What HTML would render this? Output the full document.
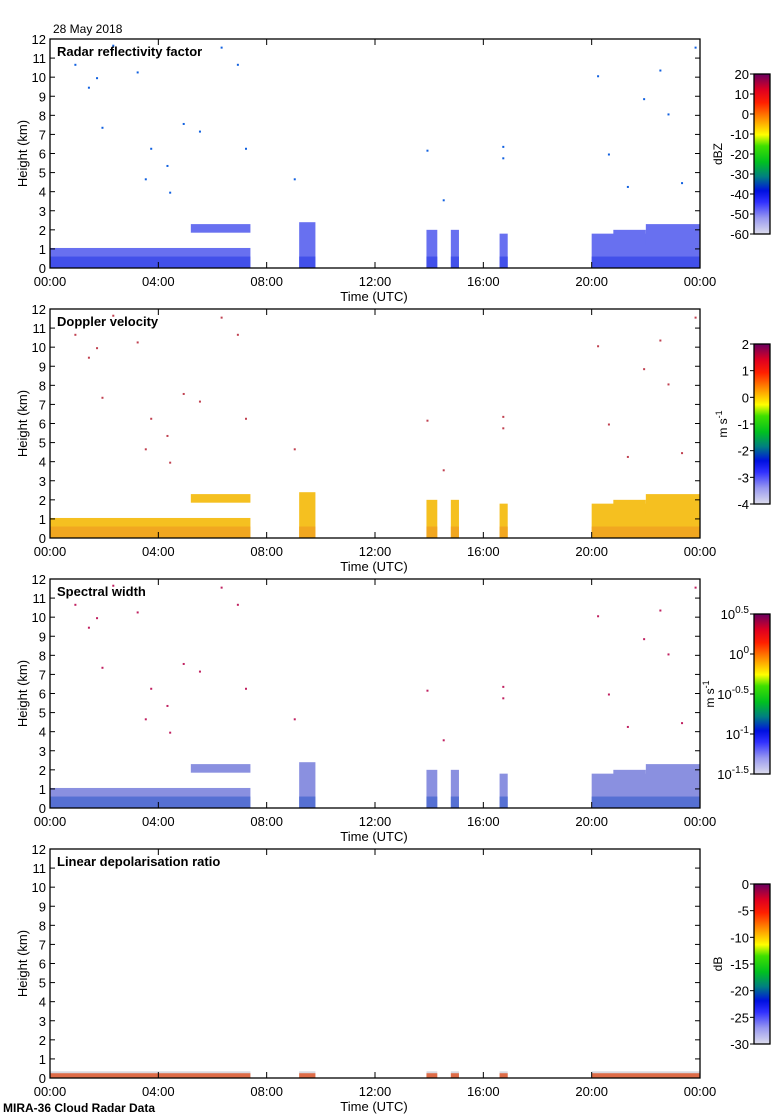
<!DOCTYPE html>
<html><head><meta charset="utf-8"><style>
body{margin:0;background:#fff;}
svg{display:block;font-family:"Liberation Sans",sans-serif;}
</style></head><body>
<svg id="chart" width="780" height="1120" viewBox="0 0 780 1120">
<defs>
<linearGradient id="cmap" x1="0" y1="1" x2="0" y2="0">
<stop offset="0" stop-color="#dcdcec"/>
<stop offset="0.1" stop-color="#9898f0"/>
<stop offset="0.2" stop-color="#3030ff"/>
<stop offset="0.27" stop-color="#0010e0"/>
<stop offset="0.36" stop-color="#008080"/>
<stop offset="0.45" stop-color="#00c020"/>
<stop offset="0.55" stop-color="#40e000"/>
<stop offset="0.62" stop-color="#ffff00"/>
<stop offset="0.72" stop-color="#ff9000"/>
<stop offset="0.82" stop-color="#ff2000"/>
<stop offset="0.9" stop-color="#e00020"/>
<stop offset="1" stop-color="#6a0060"/>
</linearGradient>
</defs>
</svg>
<script>
// ---- data ----
const panelTitles = ["Radar reflectivity factor","Doppler velocity","Spectral width","Linear depolarisation ratio"];
const xTickLabels = ["00:00","04:00","08:00","12:00","16:00","20:00","00:00"];
const xTickHours = [0,4,8,12,16,20,24];
const yTicks = [0,1,2,3,4,5,6,7,8,9,10,11,12];
// echo segments: start hour, end hour, cloud top (km), base (km)
const segStart = [0.0, 5.2, 9.2, 13.9, 14.8, 16.6, 20.0, 20.8, 22.0];
const segEnd   = [7.4, 7.4, 9.8, 14.3, 15.1, 16.9, 24.0, 22.0, 24.0];
const segTop   = [1.05, 2.3, 2.4, 2.0, 2.0, 1.8, 1.8, 2.0, 2.3];
const segBase  = [0.0, 1.85, 0.0, 0.0, 0.0, 0.0, 0.0, 1.2, 1.2];
// sparse insect/noise points (hour, km)
const dotHours = [0.9,1.4,1.7,1.9,2.3,3.2,3.5,3.7,4.3,4.4,4.9,5.5,6.3,6.9,7.2,9.0,13.9,14.5,16.7,16.7,20.2,20.6,21.3,21.9,22.5,22.8,23.3,23.8];
const dotKm    = [10.7,9.5,10.0,7.4,11.7,10.3,4.7,6.3,5.4,4.0,7.6,7.2,11.6,10.7,6.3,4.7,6.2,3.6,6.4,5.8,10.1,6.0,4.3,8.9,10.4,8.1,4.5,11.6];
const cbLabels = [
 ["20","10","0","-10","-20","-30","-40","-50","-60"],
 ["2","1","0","-1","-2","-3","-4"],
 ["0.5","0","-0.5","-1","-1.5"],
 ["0","-5","-10","-15","-20","-25","-30"]];
const cbUnits = ["dBZ","m s-1","m s-1","dB"];
const fillMain = ["#6870f0","#f5c020","#8a90e0","#d8d8e0"];
const fillLow  = ["#3848e8","#f0a020","#4868d0","#e05020"];
const dotCol   = ["#1060e0","#c04050","#c02060","#ffffff"];
const unitX = [722,727,714,722];

const NS="http://www.w3.org/2000/svg";
const svg=document.getElementById('chart');
function mk(tag,attrs,parent){const e=document.createElementNS(NS,tag);for(const k in attrs)e.setAttribute(k,attrs[k]);(parent||svg).appendChild(e);return e;}
const X0=50,X1=700;
function xs(h){return X0+(X1-X0)*h/24;}

mk('text',{x:53,y:33,'font-size':12}).textContent="28 May 2018";

for(let p=0;p<4;p++){
 const top=39+270*p, bot=268+270*p;
 const ys=k=>bot-(bot-top)*k/12;
 const g=mk('g',{});
 
 
 for(let i=0;i<segStart.length;i++){
   let t=segTop[i], b=segBase[i];
   if(p===3){t=Math.min(t,0.35); if(b>0) continue;}
   const r=mk('rect',{x:xs(segStart[i]),y:ys(t),width:xs(segEnd[i])-xs(segStart[i]),height:ys(b)-ys(t),fill:fillMain[p]},g);
   
   
   if(b===0){
     const lt=p===3?0.25:Math.min(t,0.6);
     const r2=mk('rect',{x:xs(segStart[i]),y:ys(lt),width:xs(segEnd[i])-xs(segStart[i]),height:ys(0)-ys(lt),fill:fillLow[p],opacity:0.8},g);
     
     
   }
 }
 if(p<3){
  for(let i=0;i<dotHours.length;i++){
   const d=mk('rect',{x:xs(dotHours[i]),y:ys(dotKm[i]),width:2,height:2,fill:dotCol[p]},g);
   
   
  }
 }
 const fr=mk('rect',{x:X0,y:top,width:X1-X0,height:bot-top,fill:'none',stroke:'#000','stroke-width':1.3},g);
 
 
 yTicks.forEach(v=>{
   const y=ys(v);
   mk('line',{x1:X0,x2:X0+5,y1:y,y2:y,stroke:'#000'},g);
   mk('line',{x1:X1-5,x2:X1,y1:y,y2:y,stroke:'#000'},g);
   const t=mk('text',{x:46,y:y+5,'font-size':13,'text-anchor':'end'},g);t.textContent=v;
   
   
 });
 xTickHours.forEach((h,i)=>{
   const x=xs(h);
   mk('line',{x1:x,x2:x,y1:top,y2:top+6,stroke:'#000'},g);
   mk('line',{x1:x,x2:x,y1:bot-6,y2:bot,stroke:'#000'},g);
   const t=mk('text',{x:x,y:bot+18,'font-size':13,'text-anchor':'middle'},g);t.textContent=xTickLabels[i];
   
   
 });
 const tt=mk('text',{x:57,y:top+17,'font-size':13,'font-weight':'bold'},g);tt.textContent=panelTitles[p];
 
 
 const yl=mk('text',{x:0,y:0,'font-size':13,'text-anchor':'middle',transform:`translate(27,${(top+bot)/2}) rotate(-90)`},g);yl.textContent="Height (km)";
 
 
 const xl=mk('text',{x:374,y:bot+33,'font-size':13,'text-anchor':'middle'},g);xl.textContent="Time (UTC)";
 
 
 const ct=74+270*p, cb=234+270*p;
 const cbr=mk('rect',{x:754,y:ct,width:16,height:cb-ct,fill:'url(#cmap)',stroke:'#000','stroke-width':1.3},g);
 
 
 const L=cbLabels[p];
 L.forEach((s,i)=>{
   const y=ct+(cb-ct)*i/(L.length-1);
   mk('line',{x1:750,x2:754,y1:y,y2:y,stroke:'#000'},g);
   const t=mk('text',{x:749,y:y+5,'font-size':13,'text-anchor':'end'},g);
   if(p===2){t.textContent="10";const ts=mk('tspan',{dy:-6,'font-size':10},t);ts.textContent=s;}
   else t.textContent=s;
   
   
 });
 const u=mk('text',{x:0,y:0,'font-size':12,'text-anchor':'middle',transform:`translate(${unitX[p]},${(ct+cb)/2}) rotate(-90)`},g);
 if(cbUnits[p]==="m s-1"){u.textContent="m s";const ts=mk('tspan',{dy:-5,'font-size':9},u);ts.textContent="-1";}
 else u.textContent=cbUnits[p];
 
 
}
const ft=mk('text',{x:3,y:1112,'font-size':12,'font-weight':'bold'});ft.textContent="MIRA-36 Cloud Radar Data";


</script>
</body></html>
